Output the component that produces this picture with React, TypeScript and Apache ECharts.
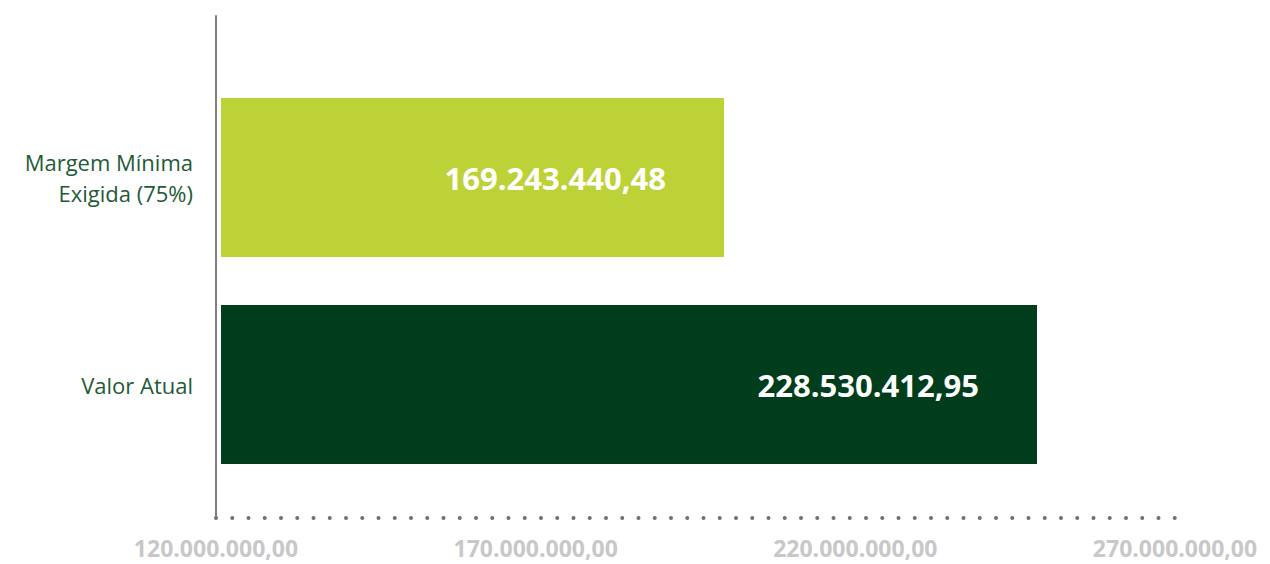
import React, { useEffect, useRef } from "react";
import * as echarts from "echarts";

const categories = ["Margem Mínima\nExigida (75%)", "Valor Atual"];
const values = [169243440.48, 228530412.95];
const barColors = ["#bdd236", "#003d1c"];
const axisStart = 120000000;
const axisEnd = 270000000;
const axisStep = 50000000;
// hidden scale that the bars are drawn on (reference bars do not follow the printed axis)
const barScaleMin = 73967000;
const barScaleMax = 254670000;

function fmtBR(v: number): string {
  const fixed = v.toFixed(2);
  const [intPart, dec] = fixed.split(".");
  const withDots = intPart.replace(/\B(?=(\d{3})+(?!\d))/g, ".");
  return withDots + "," + dec;
}

export default function App() {
  const ref = useRef<HTMLDivElement>(null);
  useEffect(() => {
    if (!ref.current) return;
    const chart = echarts.init(ref.current, undefined, { renderer: "svg" });
    chart.setOption({
      animation: false,
      backgroundColor: "#ffffff",
      grid: [
        { left: 216, top: 16, width: 959, height: 502, containLabel: false },
        { left: 221, top: 74, width: 954, height: 414, containLabel: false },
      ],
      xAxis: [
        {
          gridIndex: 0,
          type: "value",
          min: 0,
          max: axisEnd - axisStart,
          interval: axisStep,
          axisLine: {
            show: true,
            lineStyle: { color: "#6f6f6f", width: 4, type: [0, 16.25], cap: "round" },
          },
          axisTick: { show: false },
          splitLine: { show: false },
          axisLabel: {
            show: true,
            margin: 18,
            color: "#c8c8c8",
            fontSize: 23,
            lineHeight: 24,
            fontWeight: "bold",
            fontFamily: "Open Sans",
            formatter: (v: number) => fmtBR(v + axisStart),
          },
        },
        {
          gridIndex: 1,
          type: "value",
          min: barScaleMin,
          max: barScaleMax,
          show: false,
        },
      ],
      yAxis: [
        {
          gridIndex: 0,
          type: "value",
          min: 0,
          max: 1,
          axisLine: { show: true, lineStyle: { color: "#808080", width: 2 } },
          axisTick: { show: false },
          axisLabel: { show: false },
          splitLine: { show: false },
        },
        {
          gridIndex: 1,
          type: "category",
          inverse: true,
          data: categories,
          axisLine: { show: false },
          axisTick: { show: false },
          splitLine: { show: false },
          axisLabel: {
            margin: 28,
            color: "#1f5a38",
            fontSize: 22,
            lineHeight: 31,
            fontFamily: "Open Sans",
            align: "right",
          },
        },
      ],
      series: [
        {
          type: "bar",
          xAxisIndex: 1,
          yAxisIndex: 1,
          barWidth: 159,
          data: values.map((v, i) => ({ value: v, itemStyle: { color: barColors[i] } })),
          label: {
            show: true,
            position: "insideRight",
            distance: 58,
            color: "#ffffff",
            fontSize: 31,
            fontWeight: "bold",
            fontFamily: "Open Sans",
            formatter: (p: any) => fmtBR(p.value),
          },
        },
      ],
    });
    return () => chart.dispose();
  }, []);
  return (
    <div
      ref={ref}
      style={{ position: "fixed", left: 0, top: 0, width: 1270, height: 564 }}
    />
  );
}
